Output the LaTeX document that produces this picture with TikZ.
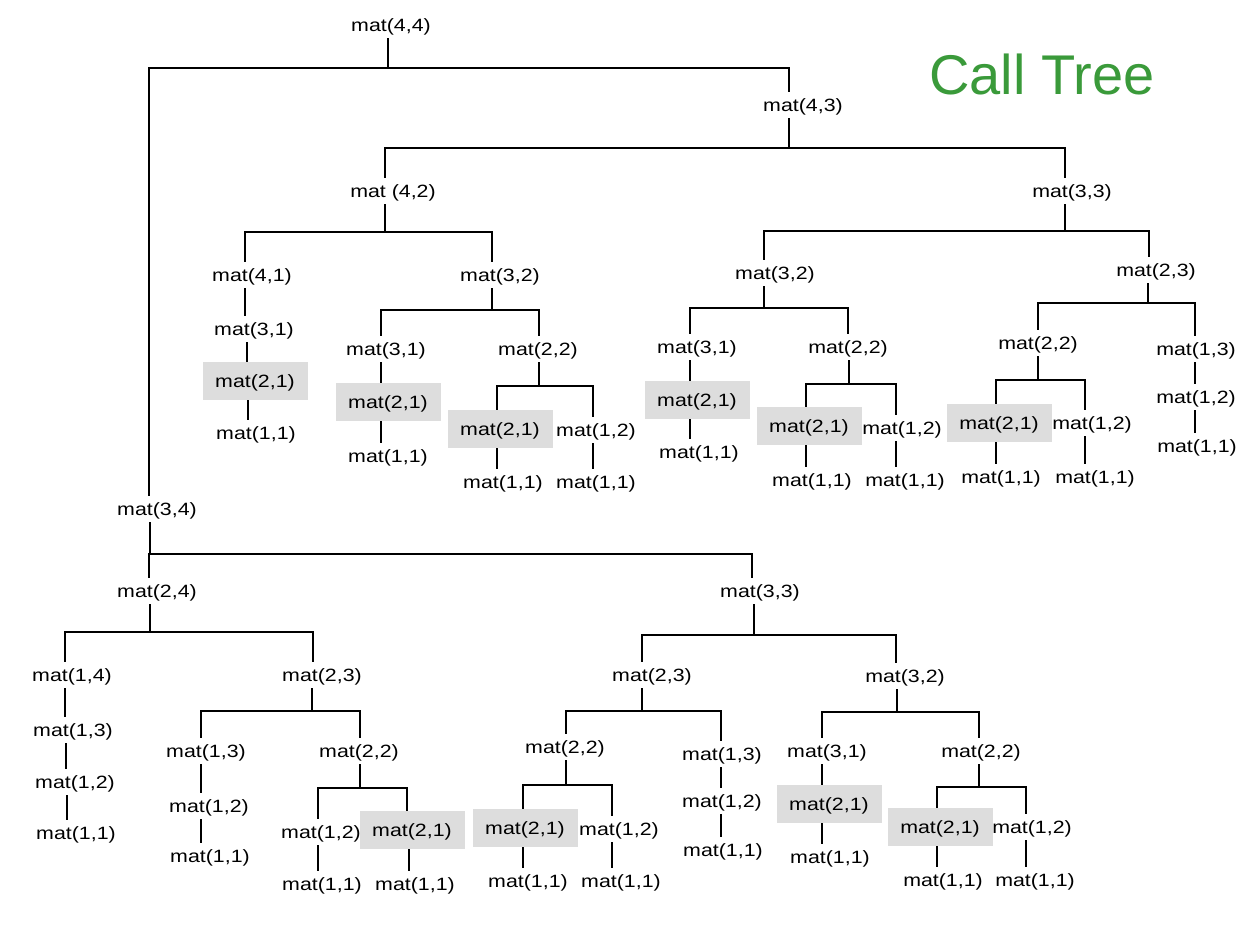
\documentclass[tikz,border=0pt]{standalone}
\usepackage{fontspec}
\newfontfamily\matfont{Liberation Sans}[FakeStretch=1.2]
\newfontfamily\titlefont{Liberation Sans}
\definecolor{boxgray}{HTML}{DDDDDD}
\definecolor{titlegreen}{HTML}{3A9A3A}
% vertical link from #1 to #2 at x=#3
\newcommand\chainlink[3]{\draw[conn] (#1.south -| #3,0) -- (#2.north -| #3,0);}
% fork: parent #1 stem x #2, bar y #3, children #4 (x #5) and #6 (x #7)
\newcommand\forklink[7]{%
  \draw[conn] (#1.south -| #2,0) -- (#2,#3);
  \draw[conn] (#4.north -| #5,0) -- (#5,#3) -- (#7,#3) -- (#6.north -| #7,0);}
\begin{document}
\begin{tikzpicture}[x=1pt,y=-1pt,
  mat/.style={inner sep=0pt, font=\matfont\fontsize{17.8}{20}\selectfont,
    text height=19.4pt, text depth=6.6pt},
  hl/.style={mat, fill=boxgray, minimum width=105pt, minimum height=38pt},
  conn/.style={line width=1.1pt, line cap=rect}]
\useasboundingbox (0,0) rectangle (1249,925);

\node[anchor=base west, text=titlegreen, font=\titlefont\fontsize{56}{60}\selectfont, inner sep=0pt] (title) at (929,95) {Call Tree};

% ---- top half ----
\node[mat] (A) at (391,25) {mat(4,4)};
\node[mat] (B) at (803,105) {mat(4,3)};
\node[mat] (C) at (393,191) {mat (4,2)};
\node[mat] (D) at (1072,191) {mat(3,3)};
\node[mat] (E) at (252,275) {mat(4,1)};
\node[mat] (F) at (254,329) {mat(3,1)};
\node[hl]  (G) at (255,381) {mat(2,1)};
\node[mat] (H) at (256,433) {mat(1,1)};
\node[mat] (I) at (500,275) {mat(3,2)};
\node[mat] (J) at (386,349) {mat(3,1)};
\node[hl]  (K) at (388,402) {mat(2,1)};
\node[mat] (L) at (388,456) {mat(1,1)};
\node[mat] (M) at (538,349) {mat(2,2)};
\node[hl]  (N) at (500,429) {mat(2,1)};
\node[mat] (O) at (503,482) {mat(1,1)};
\node[mat] (P) at (596,430) {mat(1,2)};
\node[mat] (Q) at (596,482) {mat(1,1)};
\node[mat] (R) at (775,273) {mat(3,2)};
\node[mat] (S) at (697,347) {mat(3,1)};
\node[hl]  (T) at (697,400) {mat(2,1)};
\node[mat] (U) at (699,452) {mat(1,1)};
\node[mat] (V) at (848,347) {mat(2,2)};
\node[hl]  (W) at (809,426) {mat(2,1)};
\node[mat] (X) at (812,480) {mat(1,1)};
\node[mat] (Y) at (902,428) {mat(1,2)};
\node[mat] (Z) at (905,480) {mat(1,1)};
\node[mat] (AA) at (1156,270) {mat(2,3)};
\node[mat] (AB) at (1038,343) {mat(2,2)};
\node[hl]  (AC) at (999,423) {mat(2,1)};
\node[mat] (AD) at (1001,477) {mat(1,1)};
\node[mat] (AE) at (1092,423) {mat(1,2)};
\node[mat] (AF) at (1095,477) {mat(1,1)};
\node[mat] (AG) at (1196,349) {mat(1,3)};
\node[mat] (AH) at (1196,397) {mat(1,2)};
\node[mat] (AI) at (1197,446) {mat(1,1)};

% ---- bottom half ----
\node[mat] (BA) at (157,509) {mat(3,4)};
\node[mat] (BB) at (157,591) {mat(2,4)};
\node[mat] (BC) at (72,675) {mat(1,4)};
\node[mat] (BD) at (73,730) {mat(1,3)};
\node[mat] (BE) at (75,782) {mat(1,2)};
\node[mat] (BF) at (76,833) {mat(1,1)};
\node[mat] (BG) at (322,675) {mat(2,3)};
\node[mat] (BH) at (206,751) {mat(1,3)};
\node[mat] (BI) at (209,806) {mat(1,2)};
\node[mat] (BJ) at (210,856) {mat(1,1)};
\node[mat] (BK) at (359,751) {mat(2,2)};
\node[mat] (BL) at (321,832) {mat(1,2)};
\node[mat] (BM) at (322,884) {mat(1,1)};
\node[hl]  (BN) at (412,830) {mat(2,1)};
\node[mat] (BO) at (415,884) {mat(1,1)};
\node[mat] (CA) at (760,591) {mat(3,3)};
\node[mat] (CB) at (652,675) {mat(2,3)};
\node[mat] (CC) at (565,747) {mat(2,2)};
\node[hl]  (CD) at (525,828) {mat(2,1)};
\node[mat] (CE) at (528,881) {mat(1,1)};
\node[mat] (CF) at (619,829) {mat(1,2)};
\node[mat] (CG) at (621,881) {mat(1,1)};
\node[mat] (CH) at (722,754) {mat(1,3)};
\node[mat] (CI) at (722,801) {mat(1,2)};
\node[mat] (CJ) at (723,850) {mat(1,1)};
\node[mat] (CK) at (905,676) {mat(3,2)};
\node[mat] (CL) at (827,751) {mat(3,1)};
\node[hl]  (CM) at (829,804) {mat(2,1)};
\node[mat] (CN) at (830,857) {mat(1,1)};
\node[mat] (CO) at (981,751) {mat(2,2)};
\node[hl]  (CP) at (940,827) {mat(2,1)};
\node[mat] (CQ) at (943,880) {mat(1,1)};
\node[mat] (CR) at (1032,827) {mat(1,2)};
\node[mat] (CS) at (1035,880) {mat(1,1)};

% ---- connectors, top ----
\forklink{A}{388}{68}{BA}{149}{B}{789}
\forklink{B}{789}{148}{C}{385}{D}{1065}
\forklink{C}{385}{232}{E}{245}{I}{492}
\chainlink{E}{F}{245}
\chainlink{F}{G}{247}
\chainlink{G}{H}{248}
\forklink{I}{492}{310}{J}{381}{M}{539}
\chainlink{J}{K}{381}
\chainlink{K}{L}{381}
\forklink{M}{539}{386}{N}{497}{P}{593}
\chainlink{N}{O}{497}
\chainlink{P}{Q}{593}
\forklink{D}{1065}{231}{R}{764}{AA}{1149}
\forklink{R}{764}{308}{S}{690}{V}{848}
\chainlink{S}{T}{690}
\chainlink{T}{U}{690}
\forklink{V}{849}{384}{W}{806}{Y}{896}
\chainlink{W}{X}{806}
\chainlink{Y}{Z}{896}
\forklink{AA}{1148}{303}{AB}{1038}{AG}{1195}
\forklink{AB}{1038}{380}{AC}{996}{AE}{1085}
\chainlink{AC}{AD}{996}
\chainlink{AE}{AF}{1085}
\chainlink{AG}{AH}{1195}
\chainlink{AH}{AI}{1195}

% ---- connectors, bottom ----
\forklink{BA}{150}{554}{BB}{149}{CA}{752}
\forklink{BB}{150}{632}{BC}{65}{BG}{313}
\chainlink{BC}{BD}{65}
\chainlink{BD}{BE}{66}
\chainlink{BE}{BF}{67}
\forklink{BG}{312}{711}{BH}{201}{BK}{360}
\chainlink{BH}{BI}{201}
\chainlink{BI}{BJ}{201}
\forklink{BK}{360}{788}{BL}{318}{BN}{407}
\chainlink{BL}{BM}{318}
\chainlink{BN}{BO}{409}
\forklink{CA}{754}{635}{CB}{642}{CK}{896}
\forklink{CB}{642}{711}{CC}{566}{CH}{721}
\forklink{CC}{566}{785}{CD}{523}{CF}{612}
\chainlink{CD}{CE}{523}
\chainlink{CF}{CG}{612}
\chainlink{CH}{CI}{721}
\chainlink{CI}{CJ}{721}
\forklink{CK}{897}{712}{CL}{822}{CO}{979}
\chainlink{CL}{CM}{822}
\chainlink{CM}{CN}{822}
\forklink{CO}{979}{787}{CP}{937}{CR}{1026}
\chainlink{CP}{CQ}{937}
\chainlink{CR}{CS}{1026}
\end{tikzpicture}
\end{document}
